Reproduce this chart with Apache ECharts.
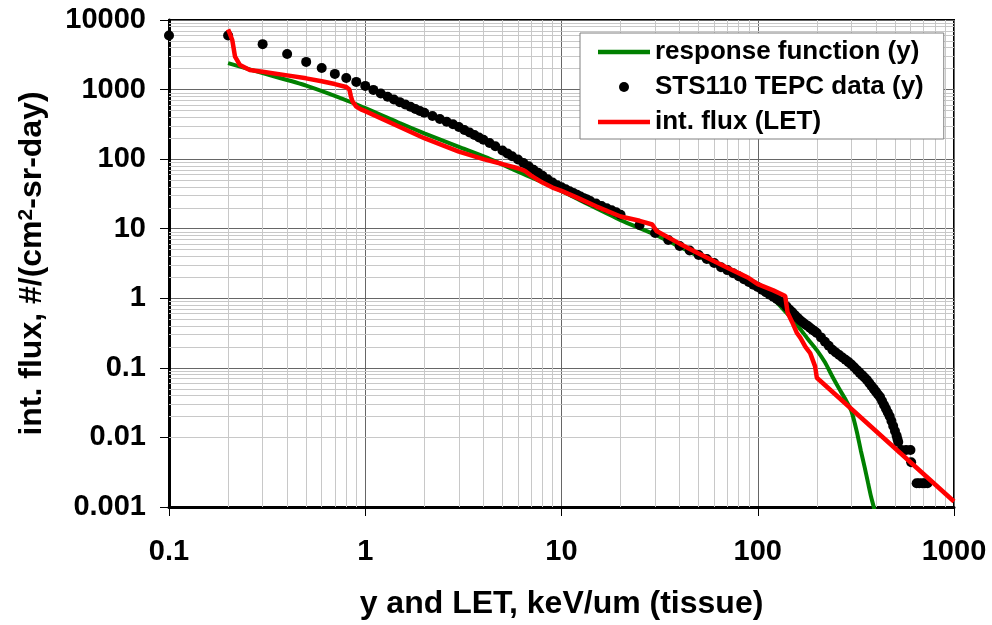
<!DOCTYPE html>
<html>
<head>
<meta charset="utf-8">
<script src="https://cdn.jsdelivr.net/npm/echarts@6/dist/echarts.min.js"></script>
<style>
  html, body { margin: 0; padding: 0; background: #fff; }
  #chart { width: 992px; height: 625px; }
</style>
</head>
<body>
<div id="chart"></div>
<script>
// response function (y)
const respX = [0.2, 0.3, 0.5, 0.9, 1.5, 2, 3, 4.2, 6, 9.3, 13, 20, 30, 40, 50, 60, 70, 80, 100, 120, 140, 160, 180, 200, 220, 240, 260, 280, 300, 320, 335, 350, 365, 378, 390, 400]
const respY = [2400, 1720, 1140, 615, 330, 235, 150, 104, 66, 38.5, 24, 13.3, 8.2, 5.5, 4.0, 3.1, 2.5, 2.05, 1.4, 0.98, 0.62, 0.4, 0.26, 0.18, 0.12, 0.075, 0.05, 0.035, 0.024, 0.012, 0.0065, 0.0038, 0.0022, 0.0014, 0.001, 0.0007]

// STS110 TEPC data (y)
const tepcX = [0.1, 0.2, 0.3, 0.4, 0.5, 0.6, 0.7, 0.8, 0.9, 1.0,
  1.1, 1.2, 1.3, 1.4, 1.5, 1.6, 1.7, 1.8, 1.9, 2.0,
  2.2, 2.4, 2.6, 2.8, 3.0, 3.2, 3.4, 3.6, 3.8, 4.0,
  4.3, 4.6, 5.0, 5.3, 5.6, 6.0, 6.4, 6.8, 7.2, 7.6, 8.0, 8.5, 9.0, 9.5,
  10, 10.5, 11, 11.5, 12, 12.5, 13, 13.5, 14, 15, 16, 17, 18, 19, 20,
  25, 30, 35, 40, 45, 50, 55, 60, 65,
  70, 75, 80, 85, 90, 95, 100, 105, 110, 115, 120, 125, 130, 135,
  140, 145, 150, 155, 160, 165, 170, 175, 180, 185, 190, 195, 200,
  210, 220, 230, 240, 250, 260, 270, 280, 290, 300, 310, 320, 330, 340, 350, 360,
  370, 380, 390, 400, 410, 420, 430, 440, 450, 460, 470, 480, 490, 500, 510, 515, 520,
  540, 570, 600, 605, 645, 665, 690, 710, 733]
const tepcY = [6000, 6000, 4500, 3250, 2500, 2040, 1680, 1470, 1290, 1130,
  990, 880, 790, 720, 660, 610, 565, 527, 493, 465,
  417, 377, 345, 317, 289, 263, 241, 222, 205, 190,
  171, 153, 133, 121, 110, 99, 88, 79, 70.5, 63.5, 57.5, 51.5, 46, 42,
  39.3, 36.8, 34.5, 32.5, 30.7, 29.1, 27.5, 26.2, 25, 23, 21.2, 19.7, 18.4, 17.2, 15.9,
  11.3, 8.7, 6.9, 5.64, 4.85, 4.2, 3.67, 3.22, 2.8,
  2.54, 2.29, 2.07, 1.88, 1.71, 1.57, 1.45, 1.33, 1.22, 1.13, 1.05, 0.975, 0.91, 0.85,
  0.765, 0.69, 0.63, 0.57, 0.52, 0.48, 0.45, 0.42, 0.4, 0.375, 0.354, 0.335, 0.317,
  0.274, 0.237, 0.208, 0.182, 0.166, 0.153, 0.141, 0.131, 0.121, 0.112, 0.102, 0.093, 0.0855, 0.0786, 0.0725, 0.067,
  0.0606, 0.0549, 0.0499, 0.0455, 0.0415, 0.038, 0.0333, 0.0293, 0.0258, 0.0228, 0.0202, 0.0172, 0.0146, 0.0124, 0.0106, 0.0095, 0.0086,
  0.0066, 0.0066, 0.0066, 0.0044, 0.0022, 0.0022, 0.0022, 0.0022, 0.0022]

// int. flux (LET)
const letX = [0.2, 0.205, 0.21, 0.217, 0.23, 0.258, 0.3, 0.4, 0.5, 0.6, 0.7, 0.8, 0.83, 0.845, 0.86, 0.9, 0.95, 1.0,
  1.5, 2, 3, 4, 5, 6, 6.5, 7, 8, 9, 10, 12, 15, 20, 25, 29, 30.5, 40, 50, 60, 70, 80, 90, 100, 120, 138,
  142, 150, 158, 165, 175, 185, 196, 200, 1000]
const letY = [7350, 6200, 5160, 2970, 2250, 1910, 1800, 1600, 1450, 1320, 1200, 1090, 1000, 800, 680, 570, 520, 490,
  290, 200, 128, 100, 85, 74, 68, 58, 46, 39, 35, 28, 21, 15, 13, 11.5, 9.3, 6.1, 4.4, 3.4, 2.75, 2.3, 1.95, 1.6, 1.3, 1.08,
  0.62, 0.45, 0.32, 0.27, 0.2, 0.163, 0.105, 0.072, 0.0012]

const xTicks = [0.1, 1, 10, 100, 1000]
const xTickLabels = ['0.1', '1', '10', '100', '1000']
const yTicks = [0.001, 0.01, 0.1, 1, 10, 100, 1000, 10000]
const yTickLabels = ['0.001', '0.01', '0.1', '1', '10', '100', '1000', '10000']

const font = '"Liberation Sans", Arial, sans-serif'

const pair = (xs, ys) => xs.map((x, i) => [x, ys[i]])

// light minor grid at 2..9 of each decade
const minorOf = ticks => {
  const out = []
  for (let i = 0; i < ticks.length - 1; i++) {
    for (let k = 2; k <= 9; k++) out.push(+(ticks[i] * k).toPrecision(6))
  }
  return out
}

const labelOf = (ticks, labels) => v => {
  const i = ticks.findIndex(t => Math.abs(Math.log10(t) - Math.log10(v)) < 1e-6)
  return i >= 0 ? labels[i] : ''
}

const chart = echarts.init(document.getElementById('chart'))

const axisCommon = {
  type: 'log',
  logBase: 10,
  axisLine: { show: true, lineStyle: { color: '#000', width: 3 } },
  axisTick: { show: true, inside: false, length: 9, lineStyle: { color: '#000', width: 1 } },
  splitLine: { show: true, lineStyle: { color: '#666', width: 1 } },
  minorTick: { show: false },
  minorSplitLine: { show: false },
  nameLocation: 'middle'
}

// flat bar used as the legend mark of the two curves
const lineIcon = 'path://M0,0H52V4.5H0Z'

chart.setOption({
  animation: false,
  backgroundColor: '#fff',
  grid: {
    left: 169, right: 38, top: 20, bottom: 118,
    show: true, borderColor: '#000', borderWidth: 2, backgroundColor: '#fff'
  },
  xAxis: Object.assign({}, axisCommon, {
    min: 0.1, max: 1000,
    name: 'y and LET, keV/um (tissue)',
    nameGap: 81,
    nameTextStyle: { fontFamily: font, fontWeight: 'bold', fontSize: 32, color: '#000' },
    axisLabel: {
      margin: 30, fontFamily: font, fontWeight: 'bold', fontSize: 29, color: '#000',
      showMinLabel: true, showMaxLabel: true,
      formatter: labelOf(xTicks, xTickLabels)
    }
  }),
  yAxis: Object.assign({}, axisCommon, {
    min: 0.001, max: 10000,
    name: '{a|int. flux, #/(cm}{s|2}{a|-sr-day)}',
    nameRotate: 90,
    nameGap: 121,
    nameTextStyle: {
      color: '#000',
      rich: {
        a: { fontFamily: font, fontWeight: 'bold', fontSize: 32, color: '#000' },
        s: { fontFamily: font, fontWeight: 'bold', fontSize: 21, color: '#000', verticalAlign: 'top' }
      }
    },
    axisLabel: {
      margin: 23, fontFamily: font, fontWeight: 'bold', fontSize: 29, color: '#000',
      showMinLabel: true, showMaxLabel: true,
      formatter: labelOf(yTicks, yTickLabels)
    }
  }),
  legend: {
    orient: 'vertical',
    left: 580, top: 33,
    padding: [4, 20, 2, 18],
    itemWidth: 52, itemHeight: 10, itemGap: 5, itemTextGap: 4,
    symbolKeepAspect: true,
    backgroundColor: '#fff', borderColor: '#808080', borderWidth: 1, borderRadius: 0,
    textStyle: { fontFamily: font, fontWeight: 'bold', fontSize: 26, color: '#000', lineHeight: 30 },
    data: [
      { name: 'response function (y)', icon: lineIcon },
      { name: 'STS110 TEPC data (y)', icon: 'circle' },
      { name: 'int. flux (LET)', icon: lineIcon }
    ]
  },
  series: [
    {
      name: 'minor grid',
      type: 'line',
      data: [],
      silent: true,
      markLine: {
        silent: true,
        z: 1,
        symbol: 'none',
        label: { show: false },
        lineStyle: { color: '#c8c8c8', width: 1, type: 'solid' },
        emphasis: { disabled: true },
        data: minorOf(xTicks).map(v => ({ xAxis: v })).concat(minorOf(yTicks).map(v => ({ yAxis: v })))
      }
    },
    {
      name: 'response function (y)',
      type: 'line',
      data: pair(respX, respY),
      symbol: 'none',
      smooth: 0.2,
      clip: true,
      z: 3,
      lineStyle: { color: '#008000', width: 4 },
      itemStyle: { color: '#008000' }
    },
    {
      name: 'STS110 TEPC data (y)',
      type: 'scatter',
      data: pair(tepcX, tepcY),
      symbol: 'circle',
      symbolSize: 10,
      clip: false,
      z: 4,
      itemStyle: { color: '#000', opacity: 1 }
    },
    {
      name: 'int. flux (LET)',
      type: 'line',
      data: pair(letX, letY),
      symbol: 'none',
      clip: true,
      z: 5,
      lineStyle: { color: '#ff0000', width: 4.5 },
      itemStyle: { color: '#ff0000' }
    }
  ]
})
</script>
</body>
</html>
